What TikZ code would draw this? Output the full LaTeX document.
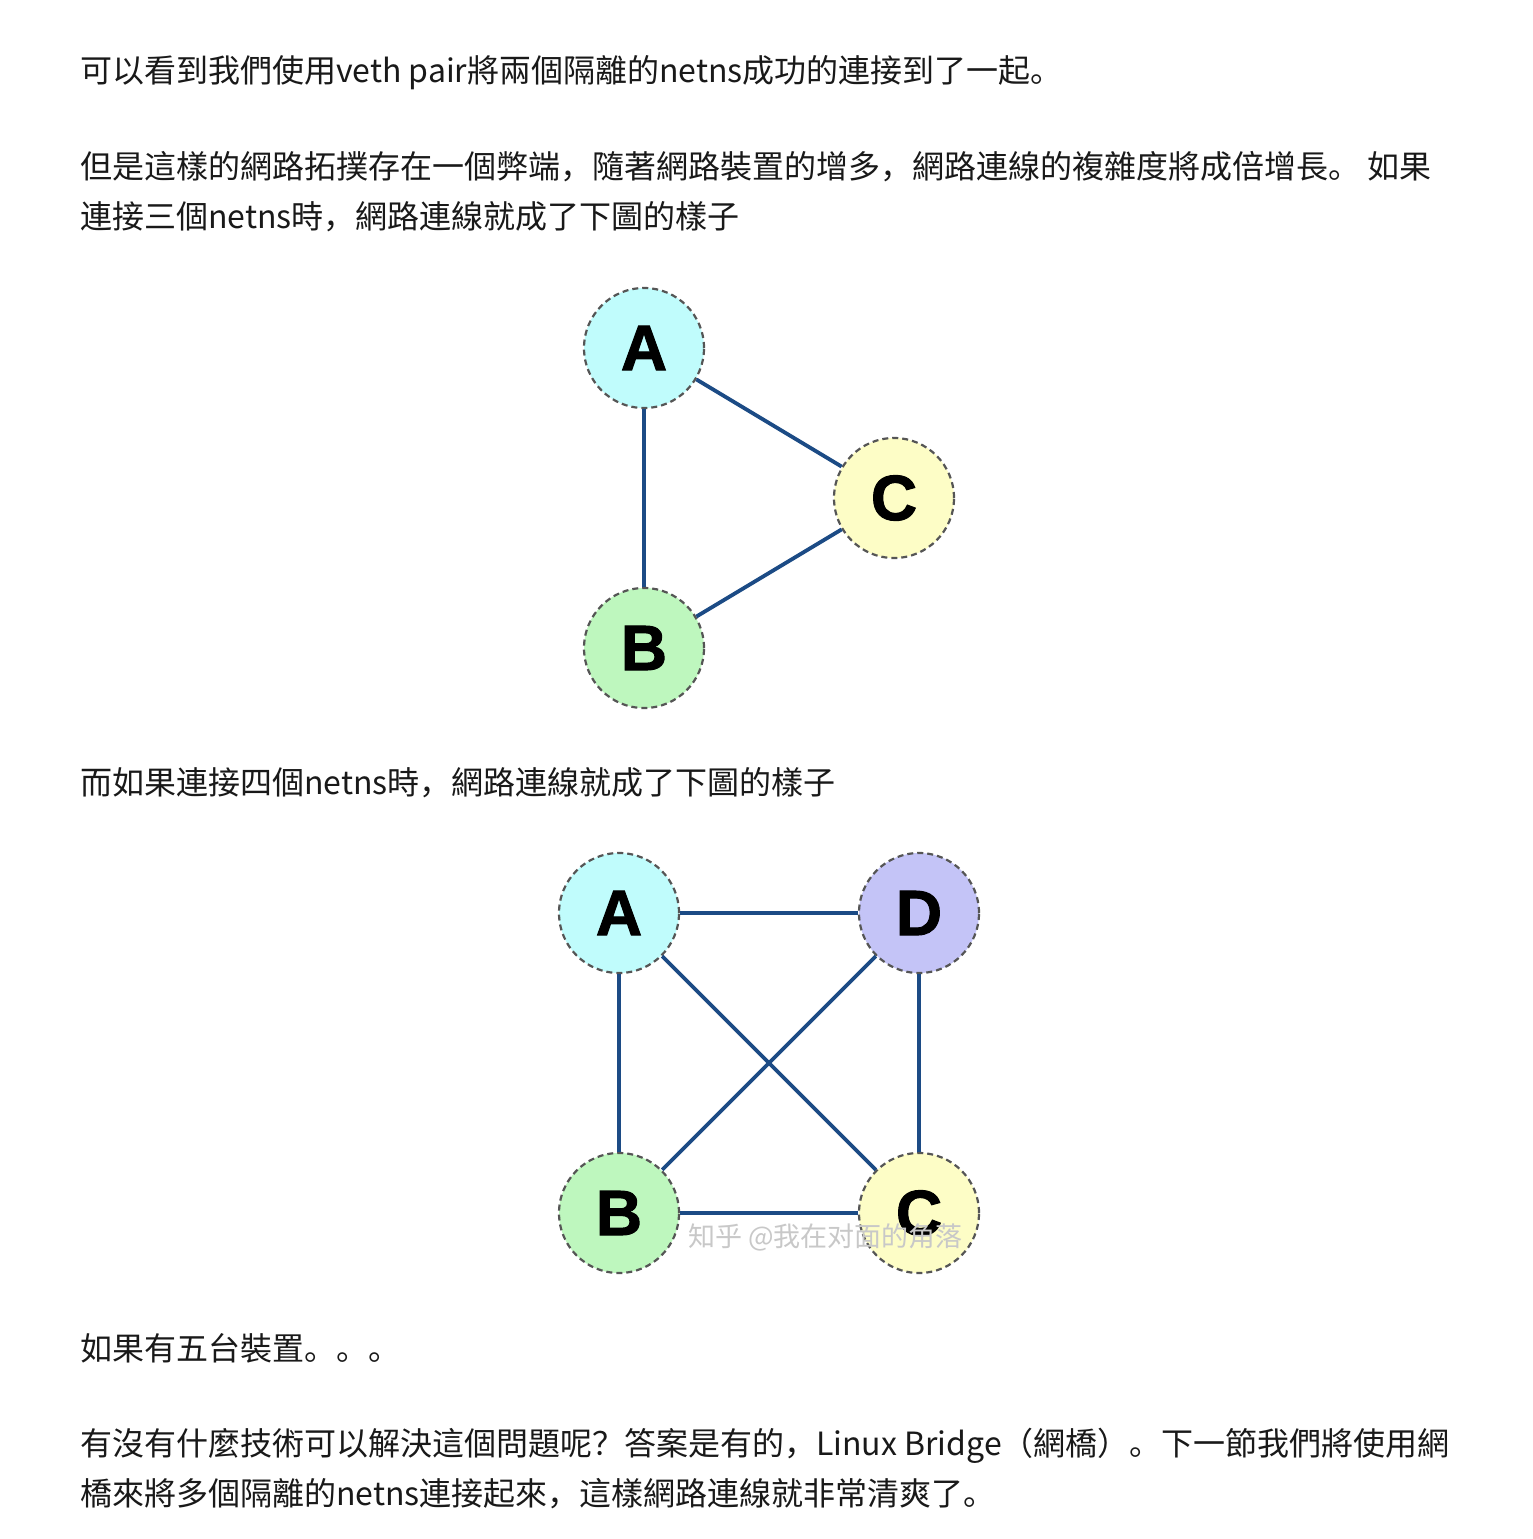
\documentclass[tikz,border=0pt]{standalone}
\usepackage{fontspec}
\setmainfont{Noto Sans CJK SC}
\newfontfamily\letterfont[BoldFeatures={FakeBold=1.6}]{Liberation Sans}
\newfontfamily\scfont{Noto Sans CJK SC}
\definecolor{edgeblue}{HTML}{1C4B85}
\definecolor{ringgray}{HTML}{555555}
\definecolor{fillA}{HTML}{C0FCFC}
\definecolor{fillB}{HTML}{BEF7BE}
\definecolor{fillC}{HTML}{FDFDC6}
\definecolor{fillD}{HTML}{C4C4F7}
\definecolor{wmgray}{HTML}{C8C8C8}
\tikzset{
  bodytext/.style={anchor=base west, inner sep=0pt, font=\fontsize{32}{32}\selectfont, text=black!90},
  netns/.style={circle, minimum size=120pt, inner sep=0pt, draw=ringgray, line width=2.2pt, dash pattern=on 6pt off 4pt,
    font=\letterfont\bfseries\fontsize{64}{64}\selectfont},
  link/.style={draw=edgeblue, line width=3.8pt},
}
\begin{document}
\begin{tikzpicture}[x=1pt,y=-1pt]
\useasboundingbox[fill=white] (0,0) rectangle (1533,1539);
% text
\node[bodytext] (t1) at (80,82) {可以看到我們使用veth pair將兩個隔離的netns成功的連接到了一起。};
\node[bodytext] (t2) at (80,178) {但是這樣的網路拓撲存在一個弊端，隨著網路裝置的增多，網路連線的複雜度將成倍增長。 如果};
\node[bodytext] (t3) at (80,228) {連接三個netns時，網路連線就成了下圖的樣子};
\node[bodytext] (t4) at (80,794) {而如果連接四個netns時，網路連線就成了下圖的樣子};
\node[bodytext] (t5) at (80,1360) {如果有五台裝置。。。};
\node[bodytext] (t6) at (80,1455) {有沒有什麼技術可以解決這個問題呢？答案是有的，Linux Bridge（網橋）。下一節我們將使用網};
\node[bodytext] (t7) at (80,1505) {橋來將多個隔離的netns連接起來，這樣網路連線就非常清爽了。};
% triangle diagram
\node[netns, fill=fillA] (a1) at (644,348) {A};
\node[netns, fill=fillC] (c1) at (894,498) {C};
\node[netns, fill=fillB] (b1) at (644,648) {B};
\draw[link] (a1) -- (b1);
\draw[link] (a1) -- (c1);
\draw[link] (b1) -- (c1);
% square diagram
\node[netns, fill=fillA] (a2) at (619,913) {A};
\node[netns, fill=fillD] (d2) at (919,913) {D};
\node[netns, fill=fillB] (b2) at (619,1213) {B};
\node[netns, fill=fillC] (c2) at (919,1213) {C};
\draw[link] (a2) -- (d2);
\draw[link] (a2) -- (b2);
\draw[link] (d2) -- (c2);
\draw[link] (b2) -- (c2);
\draw[link] (a2) -- (c2);
\draw[link] (d2) -- (b2);
\node[anchor=base west, inner sep=0pt, text=wmgray, font=\scfont\fontsize{27}{27}\selectfont] (wm) at (688,1246) {知乎 @我在对面的角落};
\end{tikzpicture}
\end{document}
